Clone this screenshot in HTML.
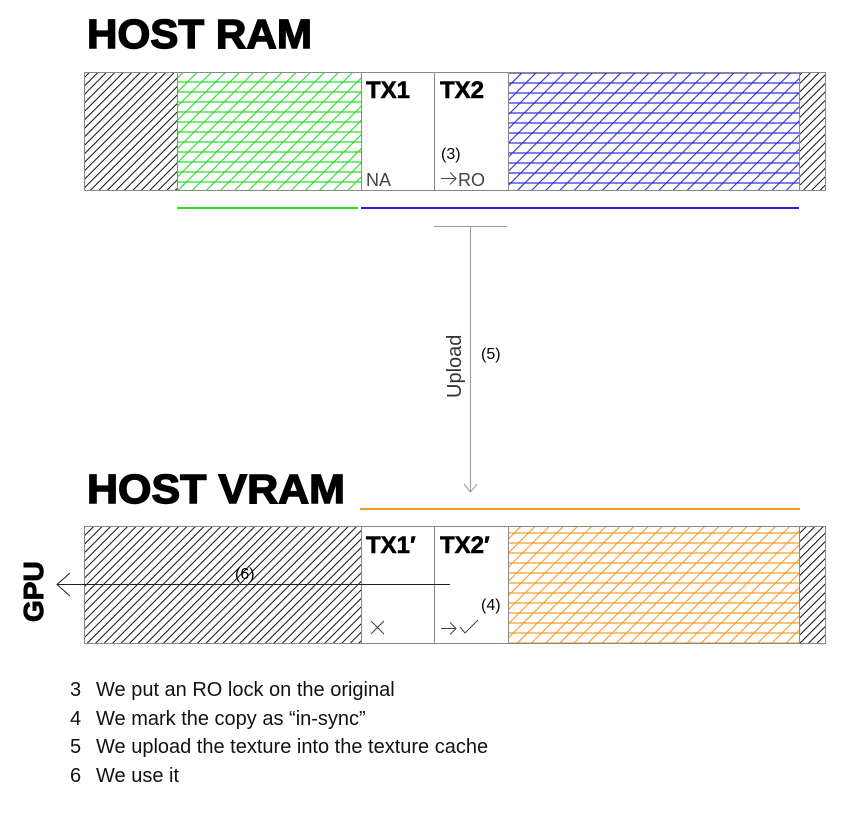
<!DOCTYPE html>
<html><head><style>
body{margin:0;background:#fff;}
svg{display:block;font-family:"Liberation Sans",sans-serif;}
.t{font-weight:bold;font-size:24px;stroke:#000;stroke-width:0.6px;}
.h{font-weight:bold;stroke:#000;stroke-width:1.4px;}
</style></head><body>
<svg width="863" height="825" viewBox="0 0 863 825">
<defs>
<pattern id="bk" width="6" height="6" patternUnits="userSpaceOnUse" patternTransform="rotate(45)"><line x1="0.5" y1="0" x2="0.5" y2="6" stroke="#111" stroke-width="1"/></pattern>
<pattern id="gd" width="10" height="10" patternUnits="userSpaceOnUse" patternTransform="rotate(45)"><line x1="0.5" y1="0" x2="0.5" y2="10" stroke="#22dd22" stroke-width="1.2"/></pattern>
<pattern id="gh" width="10" height="10" patternUnits="userSpaceOnUse"><line x1="0" y1="2" x2="10" y2="2" stroke="#22dd22" stroke-width="1.2"/></pattern>
<pattern id="bd" width="10" height="10" patternUnits="userSpaceOnUse" patternTransform="rotate(45)"><line x1="0.5" y1="0" x2="0.5" y2="10" stroke="#2a2ae0" stroke-width="1.2"/></pattern>
<pattern id="bh" width="10" height="10" patternUnits="userSpaceOnUse"><line x1="0" y1="3" x2="10" y2="3" stroke="#2a2ae0" stroke-width="1.2"/></pattern>
<pattern id="od" width="10" height="10" patternUnits="userSpaceOnUse" patternTransform="rotate(45)"><line x1="0.5" y1="0" x2="0.5" y2="10" stroke="#f59a20" stroke-width="1.2"/></pattern>
<pattern id="oh" width="10" height="10" patternUnits="userSpaceOnUse"><line x1="0" y1="3" x2="10" y2="3" stroke="#f59a20" stroke-width="1.2"/></pattern>
</defs>
<text class="h" x="87" y="48" font-size="41" textLength="225" lengthAdjust="spacingAndGlyphs">HOST RAM</text>
<rect x="84" y="72" width="93" height="118" fill="url(#bk)"/>
<rect x="177" y="72" width="184" height="118" fill="url(#gd)"/>
<rect x="177" y="72" width="184" height="118" fill="url(#gh)"/>
<rect x="508" y="72" width="291" height="118" fill="url(#bd)"/>
<rect x="508" y="72" width="291" height="118" fill="url(#bh)"/>
<rect x="799" y="72" width="27" height="118" fill="url(#bk)"/>
<rect x="84.5" y="72.5" width="741" height="118" fill="none" stroke="#888"/>
<g stroke="#888"><line x1="177.5" y1="72" x2="177.5" y2="190"/><line x1="361.5" y1="72" x2="361.5" y2="190"/><line x1="434.5" y1="72" x2="434.5" y2="190"/><line x1="508.5" y1="72" x2="508.5" y2="190"/><line x1="799.5" y1="72" x2="799.5" y2="190"/></g>
<text class="t" x="366" y="98">TX1</text>
<text class="t" x="440" y="98">TX2</text>
<text x="366" y="186" font-size="18" fill="#444">NA</text>
<text x="441" y="159" font-size="16">(3)</text>
<g stroke="#444" fill="none"><line x1="441" y1="178.5" x2="456" y2="178.5"/><polyline points="450,172.5 456,178.5 450,184.5"/></g>
<text x="458" y="186" font-size="18" fill="#444">RO</text>
<line x1="177" y1="208" x2="358" y2="208" stroke="#22dd22" stroke-width="2"/>
<line x1="361" y1="208" x2="799" y2="208" stroke="#2222dd" stroke-width="2"/>
<line x1="434" y1="226.5" x2="507" y2="226.5" stroke="#999"/>
<line x1="470.5" y1="226" x2="470.5" y2="491" stroke="#999"/>
<polyline points="464,484 470.5,492 477,484" fill="none" stroke="#999"/>
<text transform="translate(461,398) rotate(-90)" font-size="20" fill="#333">Upload</text>
<text x="481" y="359" font-size="16">(5)</text>
<text class="h" x="87" y="503" font-size="41" textLength="258" lengthAdjust="spacingAndGlyphs">HOST VRAM</text>
<line x1="360" y1="509" x2="800" y2="509" stroke="#f59a20" stroke-width="2"/>
<rect x="84" y="526" width="277" height="117" fill="url(#bk)"/>
<rect x="508" y="526" width="291" height="117" fill="url(#od)"/>
<rect x="508" y="526" width="291" height="117" fill="url(#oh)"/>
<rect x="799" y="526" width="27" height="117" fill="url(#bk)"/>
<rect x="84.5" y="526.5" width="741" height="117" fill="none" stroke="#888"/>
<g stroke="#888"><line x1="361.5" y1="526" x2="361.5" y2="643"/><line x1="434.5" y1="526" x2="434.5" y2="643"/><line x1="508.5" y1="526" x2="508.5" y2="643"/><line x1="799.5" y1="526" x2="799.5" y2="643"/></g>
<text class="t" x="366" y="553">TX1′</text>
<text class="t" x="440" y="553">TX2′</text>
<g stroke="#444" fill="none">
<line x1="371" y1="621" x2="384" y2="634"/><line x1="384" y1="621" x2="371" y2="634"/>
<line x1="441" y1="628.5" x2="456" y2="628.5"/><polyline points="450,622.5 456,628.5 450,634.5"/>
<polyline points="460,627 465,633 478,620"/>
</g>
<text x="481" y="610" font-size="16">(4)</text>
<line x1="57" y1="584.5" x2="450" y2="584.5" stroke="#222"/>
<polyline points="70,573 57,584.5 70,596" fill="none" stroke="#222"/>
<text x="235" y="579" font-size="16">(6)</text>
<text class="h" transform="translate(43,622) rotate(-90)" font-size="28" style="stroke-width:1px">GPU</text>
<g font-size="20" fill="#111">
<text x="70" y="696">3</text><text x="96" y="696">We put an RO lock on the original</text>
<text x="70" y="725">4</text><text x="96" y="725">We mark the copy as “in-sync”</text>
<text x="70" y="753">5</text><text x="96" y="753">We upload the texture into the texture cache</text>
<text x="70" y="782">6</text><text x="96" y="782">We use it</text>
</g>
</svg>
</body></html>
